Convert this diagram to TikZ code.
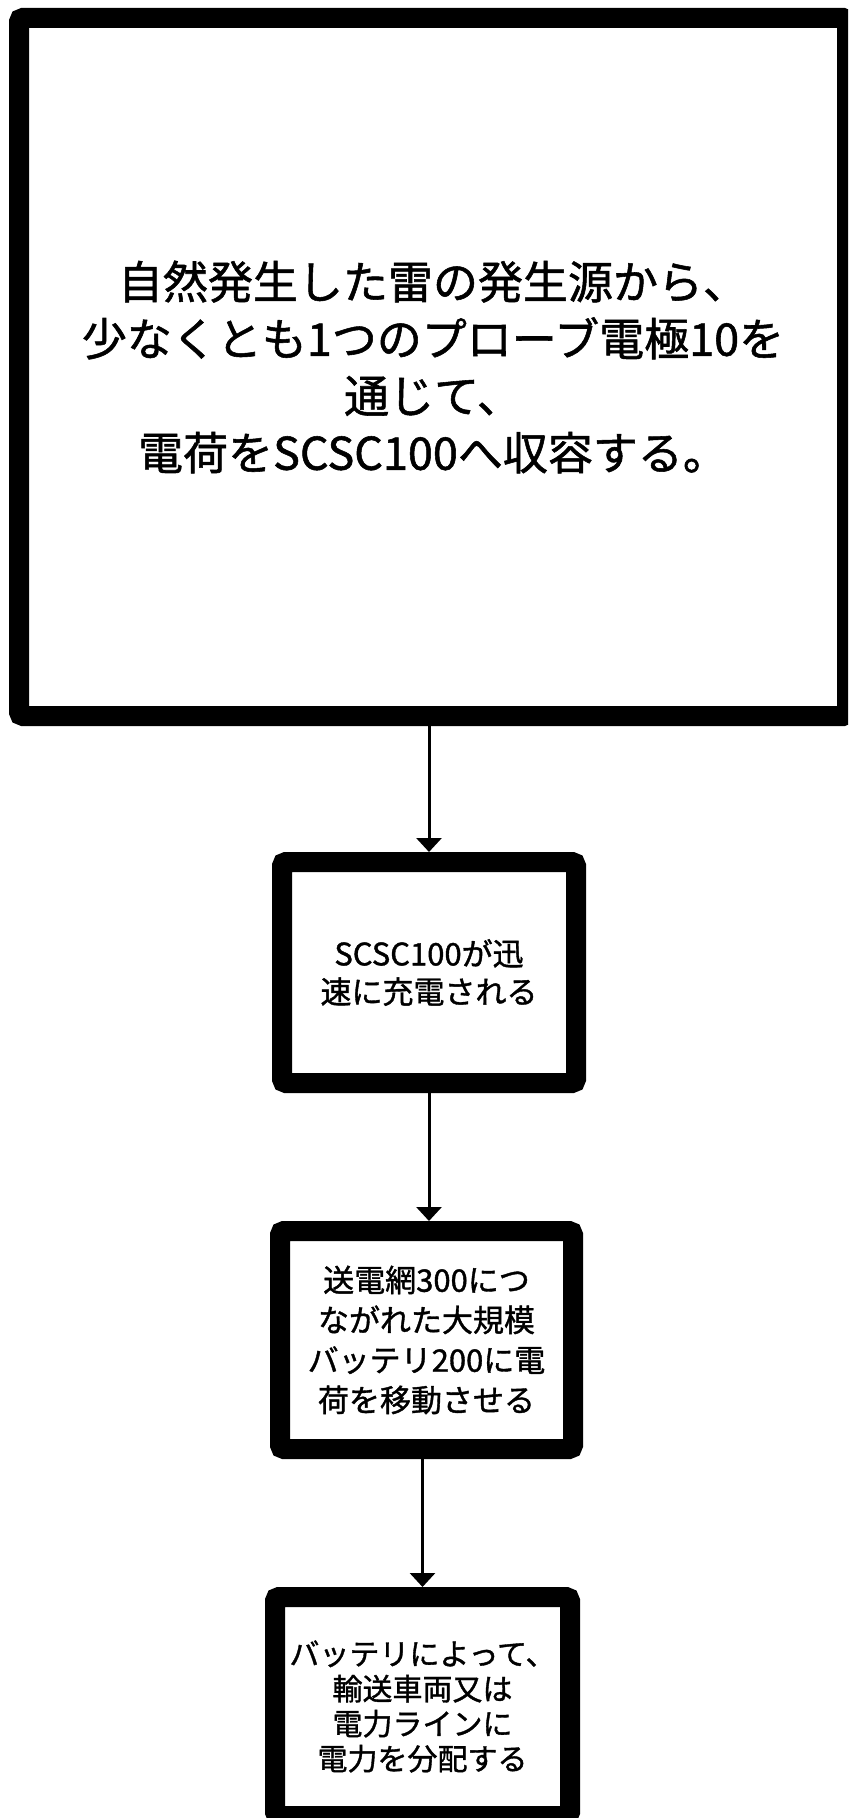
\documentclass[tikz,border=0pt]{standalone}
\usepackage{fontspec}
\setmainfont{Noto Sans CJK JP}[FakeBold=1.2]
\usetikzlibrary{arrows.meta}
\begin{document}
\begin{tikzpicture}[x=0.5pt,y=-0.5pt,
  box/.style={draw=black, line width=10pt, rounded corners=2pt, fill=white, align=center, inner sep=0pt},
  arr/.style={draw=black, line width=1.5pt, -{Triangle[width=12.5pt,length=7pt]}}]
\useasboundingbox (0,0) rectangle (848,1818);
\clip (0,0) rectangle (848,1818);
\node[box, minimum width=414pt, minimum height=349pt,
  font=\fontsize{22.5pt}{28.5pt}\selectfont] (b1) at (433,367)
  {自然発生した雷の発生源から、\\少なくとも1つのプローブ電極10を\\通じて、\\電荷をSCSC100へ収容する。};
\node[box, minimum width=147pt, minimum height=110.5pt,
  font=\fontsize{15.5pt}{19pt}\selectfont] (b2) at (429,972.5)
  {SCSC100が迅\\速に充電される};
\node[box, minimum width=146.5pt, minimum height=109pt,
  font=\fontsize{15.5pt}{20pt}\selectfont] (b3) at (426.5,1340)
  {送電網300につ\\ながれた大規模\\バッテリ200に電\\荷を移動させる};
\node[box, minimum width=147.5pt, minimum height=109.5pt,
  font=\fontsize{15pt}{17.5pt}\selectfont] (b4) at (422.5,1706.5)
  {バッテリによって、\\輸送車両又は\\電力ラインに\\電力を分配する};
\draw[arr] (b2.north |- b1.south) -- (b2.north);
\draw[arr] (b2.south) -- (b2.south |- b3.north);
\draw[arr] (b4.north |- b3.south) -- (b4.north);
\end{tikzpicture}
\end{document}
